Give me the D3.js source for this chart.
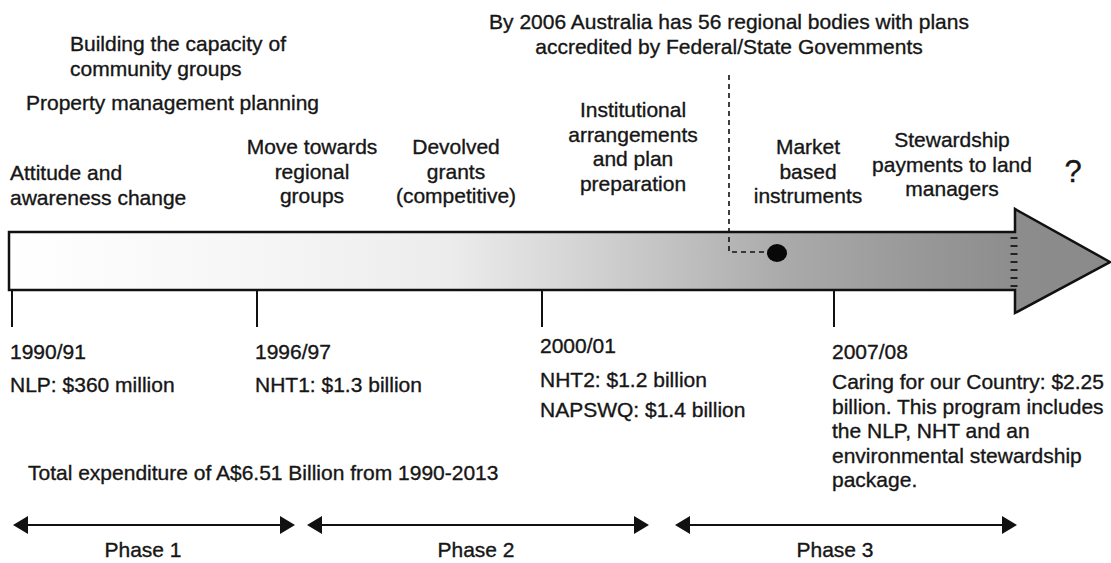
<!DOCTYPE html>
<html>
<head>
<meta charset="utf-8">
<script src="https://cdn.jsdelivr.net/npm/d3@7"></script>
<style>
  html, body { margin: 0; padding: 0; background: #fff; }
  svg text { font-family: "Liberation Sans", Arial, sans-serif; fill: #161616; stroke: #161616; stroke-width: 0.35px; }
</style>
</head>
<body>
<script>
// ---- data ----
const periods = ["1990/91", "1996/97", "2000/01", "2007/08"];
const start_years = [1990, 1996, 2000, 2007];
const programs = [
    ["NLP: $360 million"],
    ["NHT1: $1.3 billion"],
    ["NHT2: $1.2 billion", "NAPSWQ: $1.4 billion"],
    ["Caring for our Country: $2.25", "billion. This program includes", "the NLP, NHT and an", "environmental stewardship", "package."]
];
const themes = [
    ["Building the capacity of", "community groups"],
    ["Property management planning"],
    ["Attitude and", "awareness change"],
    ["Move towards", "regional", "groups"],
    ["Devolved", "grants", "(competitive)"],
    ["Institutional", "arrangements", "and  plan", "preparation"],
    ["Market", "based", "instruments"],
    ["Stewardship", "payments to land", "managers"]
];
const milestone_note = ["By 2006 Australia has 56 regional bodies with plans", "accredited by Federal/State Govemments"];
const total_note = "Total expenditure of A$6.51 Billion from 1990-2013";
const phases = ["Phase 1", "Phase 2", "Phase 3"];

// ---- layout ----
const _svg_width = 1111;
const _svg_height = 563;
const font_size = 21;
const line_gap = 24.5;
const body_top = 232;
const body_bottom = 290;
const body_left = 9;
const head_base = 1015;
const head_top = 209;
const head_bottom = 313;
const head_tip = 1110;
const tick_bottom = 327;

// years -> x along the timeline (piecewise, as drawn in the figure)
const x = d3.scaleLinear()
    .domain([1990, 1996, 2000, 2007, 2013])
    .range([12, 257, 542, 834, 1110]);

// anchor, x, first baseline for each theme block
const theme_layout = [
    ["start", 70, 51],
    ["start", 26, 110],
    ["start", 10, 180],
    ["middle", 312, 154],
    ["middle", 456, 154],
    ["middle", 633, 117],
    ["middle", 808, 154],
    ["middle", 952, 147]
];
const period_label_y = [359, 359, 353, 359];
const program_y = [392, 392, 387, 389];
const phase_spans = [[13, 295], [307, 649], [675, 1017]];
const phase_label_x = [143, 476, 835];
const phase_y = 525;

const svg = d3.select('body')
    .append('svg')
    .attr('width', _svg_width)
    .attr('height', _svg_height);

const defs = svg.append('defs');
const grad = defs.append('linearGradient')
    .attr('id', 'body_grad')
    .attr('gradientUnits', 'userSpaceOnUse')
    .attr('x1', body_left).attr('x2', head_tip)
    .attr('y1', 0).attr('y2', 0);
[[0, '#ffffff'], [0.22, '#f6f6f6'], [0.4, '#ececec'], [0.5, '#d8d8d8'],
 [0.6, '#c2c2c2'], [0.7, '#ababab'], [0.82, '#999999'], [0.92, '#8c8c8c'], [1, '#8a8a8a']]
    .forEach(s => grad.append('stop').attr('offset', s[0]).attr('stop-color', s[1]));

// ---- big timeline arrow ----
const arrow_path = d3.path();
arrow_path.moveTo(body_left, body_top);
arrow_path.lineTo(head_base, body_top);
arrow_path.lineTo(head_base, head_top);
arrow_path.lineTo(head_tip, (body_top + body_bottom) / 2 + 1);
arrow_path.lineTo(head_base, head_bottom);
arrow_path.lineTo(head_base, body_bottom);
arrow_path.lineTo(body_left, body_bottom);
arrow_path.closePath();

svg.append('path')
    .attr('d', arrow_path.toString())
    .attr('fill', 'url(#body_grad)')
    .attr('stroke', '#111')
    .attr('stroke-width', 2.5)
    .attr('stroke-linejoin', 'miter');

// hatched seam where the body meets the head
svg.append('line')
    .attr('x1', head_base - 1).attr('x2', head_base - 1)
    .attr('y1', body_top + 5).attr('y2', body_bottom - 3)
    .attr('stroke', '#222')
    .attr('stroke-width', 7)
    .attr('stroke-dasharray', '2,6');

// ---- period ticks ----
const ticks = svg.append('g').selectAll('g')
    .data(start_years)
    .join('g');

ticks.append('line')
    .attr('x1', d => x(d)).attr('x2', d => x(d))
    .attr('y1', body_bottom).attr('y2', tick_bottom)
    .attr('stroke', '#111')
    .attr('stroke-width', 2);

ticks.append('text')
    .attr('x', d => x(d) - 2)
    .attr('y', (d, i) => period_label_y[i])
    .attr('font-size', font_size)
    .text((d, i) => periods[i]);

ticks.each(function (d, i) {
    d3.select(this).selectAll('text.prog')
        .data(programs[i])
        .join('text')
        .attr('class', 'prog')
        .attr('x', x(d) - 2)
        .attr('y', (t, j) => program_y[i] + j * (i == 3 ? line_gap : 30))
        .attr('font-size', font_size)
        .text(t => t);
});

// ---- themes above the arrow ----
themes.forEach((lines, i) => {
    const [anchor, tx, ty] = theme_layout[i];
    svg.append('g').selectAll('text')
        .data(lines)
        .join('text')
        .attr('x', tx)
        .attr('y', (t, j) => ty + j * line_gap)
        .attr('text-anchor', anchor)
        .attr('font-size', font_size)
        .text(t => t);
});

svg.append('text')
    .attr('x', 1073)
    .attr('y', 182)
    .attr('text-anchor', 'middle')
    .attr('font-size', 31)
    .text('?');

// ---- 2006 milestone ----
svg.append('g').selectAll('text')
    .data(milestone_note)
    .join('text')
    .attr('x', 729)
    .attr('y', (t, j) => 29 + j * line_gap)
    .attr('text-anchor', 'middle')
    .attr('font-size', font_size)
    .text(t => t);

const dot_x = 777;
svg.append('path')
    .attr('d', `M729,75 V252 H${dot_x - 8}`)
    .attr('fill', 'none')
    .attr('stroke', '#111')
    .attr('stroke-width', 1.6)
    .attr('stroke-dasharray', '5,4');

svg.append('ellipse')
    .attr('cx', dot_x)
    .attr('cy', 253)
    .attr('rx', 10)
    .attr('ry', 9)
    .attr('fill', '#080808');

// ---- total ----
svg.append('text')
    .attr('x', 28)
    .attr('y', 480)
    .attr('font-size', font_size)
    .text(total_note);

// ---- phases ----
const ph = svg.append('g').selectAll('g')
    .data(phases)
    .join('g');

ph.append('line')
    .attr('x1', (d, i) => phase_spans[i][0] + 8)
    .attr('x2', (d, i) => phase_spans[i][1] - 8)
    .attr('y1', phase_y).attr('y2', phase_y)
    .attr('stroke', '#111')
    .attr('stroke-width', 2.2);

ph.append('path')
    .attr('d', (d, i) => {
        const [a, b] = phase_spans[i];
        return `M${a},${phase_y} L${a + 15},${phase_y - 9} L${a + 15},${phase_y + 9} Z` +
               `M${b},${phase_y} L${b - 15},${phase_y - 9} L${b - 15},${phase_y + 9} Z`;
    })
    .attr('fill', '#111');

ph.append('text')
    .attr('x', (d, i) => phase_label_x[i])
    .attr('y', 557)
    .attr('text-anchor', 'middle')
    .attr('font-size', font_size)
    .text(d => d);
</script>
</body>
</html>
